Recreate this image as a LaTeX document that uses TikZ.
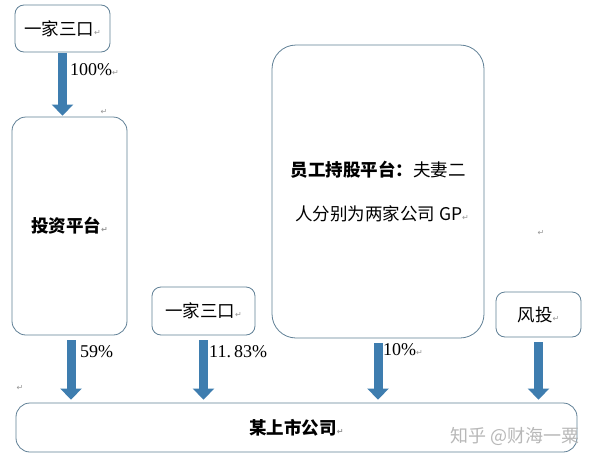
\documentclass[tikz,border=0pt]{standalone}
\usepackage{fontspec}
\setmainfont{Noto Sans CJK SC}
\newfontfamily\lat{Liberation Serif}
\newfontfamily\sym{DejaVu Sans}
\usetikzlibrary{arrows.meta}
\definecolor{boxline}{RGB}{96,128,150}
\definecolor{arrowblue}{RGB}{62,125,175}
\definecolor{markgray}{RGB}{150,150,150}
\newcommand{\parmark}{{\sym\fontsize{8}{8}\selectfont\color{markgray}↵}}
\begin{document}
\begin{tikzpicture}[x=1pt,y=-1pt,
  box/.style={draw=boxline,line width=0.8pt,rounded corners=9pt,fill=white,inner sep=0pt},
  bigbox/.style={box,rounded corners=20pt},
  cjktext/.style={font=\fontsize{17.5}{20}\selectfont},
  fat/.style={draw=arrowblue,line width=9pt,-{Triangle[width=21pt,length=11pt]},color=arrowblue},
  pct/.style={font=\lat\fontsize{18}{20}\selectfont,anchor=west,inner sep=0pt}]
\useasboundingbox (0,0) rectangle (592,466);
\fill[white] (0,0) rectangle (592,466);
% boxes
\node[box,minimum width=95pt,minimum height=47pt,cjktext] (fam1) at (62.5,28.5) {一家三口\parmark};
\node[bigbox,rounded corners=14pt,minimum width=115pt,minimum height=218pt,cjktext] (inv) at (69.5,226) {\bfseries 投资平台\parmark};
\node[box,minimum width=103pt,minimum height=48pt,cjktext] (fam2) at (203.5,311) {一家三口\parmark};
\node[bigbox,rounded corners=24pt,minimum width=212pt,minimum height=293pt,cjktext,align=center] (esop) at (378,191.5)
  {{\bfseries 员工持股平台：}夫妻二\\[24pt]\hspace*{8pt}人分别为两家公司 GP\parmark};
\node[box,minimum width=85pt,minimum height=45pt,cjktext] (vc) at (538.5,314.5) {风投\parmark};
\node[bigbox,rounded corners=14pt,minimum width=561pt,minimum height=49pt,cjktext] (co) at (296.5,427.5) {\bfseries 某上市公司\parmark};
% arrows
\draw[fat,shorten <=1pt,shorten >=1pt] (fam1.south) -- (fam1.south |- inv.north);
\coordinate (a1) at (71,335);
\draw[fat,shorten <=5pt,shorten >=3pt] (a1) -- (a1 |- co.north);
\draw[fat,shorten <=5pt,shorten >=3pt] (fam2.south) -- (fam2.south |- co.north);
\draw[fat,shorten <=5pt,shorten >=3pt] (esop.south) -- (esop.south |- co.north);
\draw[fat,shorten <=5pt,shorten >=3pt] (vc.south) -- (vc.south |- co.north);
% labels
\node[pct] (l100) at (70,70) {100\%\parmark};
\node[pct] (l59) at (80,352) {59\%};
\node[pct] (l1183) at (209,352) {11.\,83\%};
\node[pct] (l10) at (383,350) {10\%\parmark};
% stray paragraph marks
\node (m1) at (104,112) {\parmark};
\node (m2) at (20,388) {\parmark};
\node (m3) at (541,233) {\parmark};
% watermark
\node[font=\fontsize{18}{20}\selectfont,text=black!28,anchor=east] (wm) at (583,436) {知乎 @财海一粟};
\end{tikzpicture}
\end{document}
